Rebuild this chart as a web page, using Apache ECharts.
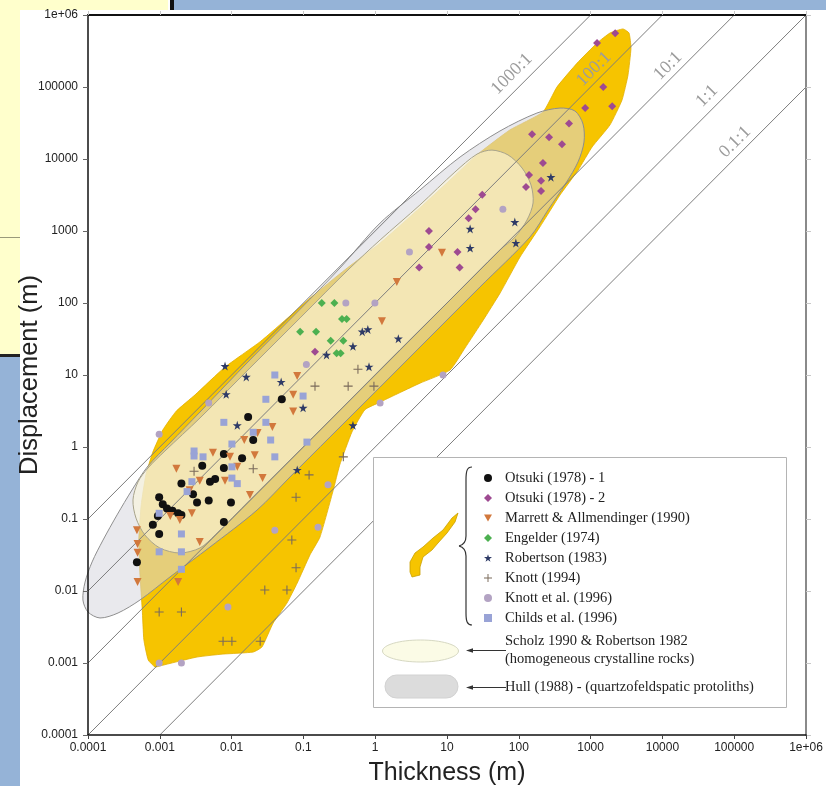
<!DOCTYPE html>
<html><head><meta charset="utf-8">
<script src="https://cdn.jsdelivr.net/npm/echarts/dist/echarts.min.js"></script>
<style>
html,body{margin:0;padding:0;background:#fff;}
#wrap{position:relative;width:826px;height:786px;overflow:hidden;}
.d{position:absolute;}
#c{position:absolute;left:0;top:0;width:826px;height:786px;}
</style>
</head><body>
<div id="wrap">
  <div class="d" style="left:0;top:0;width:168px;height:358px;background:#FFFFCC;"></div>
  <div class="d" style="left:0;top:237px;width:20px;height:1px;background:#9a9a7a;"></div>
  <div class="d" style="left:0;top:354px;width:20px;height:3px;background:#222;"></div>
  <div class="d" style="left:0;top:357px;width:20px;height:429px;background:#95B3D7;"></div>
  <div class="d" style="left:170px;top:0;width:4px;height:10px;background:#111;"></div>
  <div class="d" style="left:174px;top:0;width:652px;height:10px;background:#95B3D7;"></div>
  <div class="d" style="left:20px;top:10px;width:806px;height:776px;background:#fff;"></div>
  <div id="c"></div>
</div>
<script>
// ---------- tick labels ----------
const tickText = ['0.0001','0.001','0.01','0.1','1','10','100','1000','10000','100000','1e+06'];

// ---------- data series (Thickness m, Displacement m) ----------
const otsuki1 = [[0.05,4.6],[0.017,2.6],[0.02,1.25],[0.0078,0.8],[0.014,0.7],[0.0039,0.55],[0.0078,0.51],[0.0059,0.36],[0.005,0.33],[0.002,0.31],[0.0029,0.22],[0.0033,0.17],[0.0048,0.18],[0.0098,0.17],[0.00098,0.2],[0.0011,0.16],[0.00126,0.14],[0.0015,0.13],[0.0018,0.12],[0.002,0.114],[0.00094,0.11],[0.0008,0.083],[0.00098,0.062],[0.0078,0.091],[0.00048,0.025]];
const otsuki2 = [[2200,560000],[1230,410000],[1500,100000],[840,51000],[2000,54000],[500,31000],[153,22000],[264,20000],[400,16000],[217,8800],[139,6000],[204,5000],[126,4100],[204,3600],[31,3200],[25,2000],[20,1500],[5.6,1000],[5.6,600],[14,510],[15,310],[4.1,310],[0.145,21]];
const marrett = [[8.5,500],[2,196],[1.24,56],[0.082,9.7],[0.072,5.3],[0.072,3.1],[0.037,1.9],[0.023,1.56],[0.015,1.25],[0.021,0.77],[0.012,0.53],[0.0095,0.73],[0.0055,0.83],[0.0017,0.5],[0.0036,0.34],[0.0081,0.34],[0.027,0.37],[0.018,0.215],[0.0026,0.25],[0.0028,0.12],[0.0014,0.11],[0.0019,0.097],[0.0036,0.048],[0.00048,0.07],[0.00049,0.045],[0.00049,0.034],[0.00049,0.0133],[0.0018,0.0133]];
const engelder = [[0.18,100],[0.27,100],[0.345,60],[0.4,60],[0.09,40],[0.15,40],[0.24,30],[0.36,30],[0.29,20],[0.33,20]];
const robertson = [[280,5600],[88,1330],[21,1070],[21,580],[91,680],[2.1,32],[0.66,40],[0.79,43],[0.49,25],[0.21,19],[0.82,13],[0.0081,13.3],[0.016,9.4],[0.049,8],[0.0084,5.4],[0.099,3.5],[0.012,2],[0.49,2],[0.082,0.48]];
const knott94 = [[0.069,0.051],[0.079,0.021],[0.029,0.0103],[0.059,0.0103],[0.00098,0.0051],[0.002,0.0051],[0.0076,0.002],[0.0101,0.002],[0.025,0.002],[0.079,0.2],[0.12,0.41],[0.36,0.73],[0.02,0.5],[0.003,0.46],[0.145,7],[0.42,7],[0.575,12],[0.96,7]];
const knott96 = [[1.17,4.1],[0.16,0.077],[0.22,0.3],[0.04,0.07],[0.0089,0.006],[0.00098,0.001],[0.002,0.001],[0.00098,1.5],[0.0048,4.1],[0.39,100],[0.99,100],[0.11,14],[3,510],[60,2000],[8.8,10]];
const childs = [[0.04,10],[0.099,5.1],[0.03,4.6],[0.0078,2.2],[0.03,2.2],[0.02,1.6],[0.035,1.25],[0.0101,1.1],[0.112,1.17],[0.003,0.88],[0.003,0.75],[0.004,0.73],[0.04,0.73],[0.0101,0.53],[0.0101,0.37],[0.012,0.31],[0.0028,0.33],[0.0024,0.24],[0.00098,0.12],[0.002,0.062],[0.00098,0.035],[0.002,0.035],[0.002,0.02]];

// ---------- envelope of all data (gold field) ----------
const envelope = [[0.00086,0.00088],[0.00069,0.0011],[0.0006,0.0021],[0.00057,0.0055],[0.00053,0.0167],[0.00051,0.051],[0.00055,0.156],[0.00064,0.41],[0.0008,0.85],[0.0011,1.72],[0.0017,3.16],[0.0031,5.3],[0.0081,12.9],[0.025,29],[0.065,66],[0.124,117],[0.38,290],[1.17,680],[4.2,2100],[11,5100],[26,11400],[75,25300],[217,45000],[340,100000],[650,215000],[1230,408000],[1860,562000],[2830,640000],[3430,562000],[3650,348000],[3320,147000],[2740,66000],[1860,29700],[1050,14700],[670,7000],[375,3160],[197,1140],[104,435],[55,138],[32,58],[17.8,23.7],[11,11.7],[4.2,7.7],[1.9,5.3],[1.17,4.2],[0.72,3.3],[0.475,1.62],[0.32,0.56],[0.26,0.25],[0.17,0.056],[0.124,0.032],[0.082,0.0129],[0.059,0.0068],[0.038,0.0036],[0.0265,0.00167],[0.02,0.00142],[0.0076,0.00133],[0.0033,0.00121],[0.001,0.00091]];

// ---------- outlined fields ----------
const hullOutline = [[8.5e-5,0.0075],[9.1e-5,0.0133],[1.14e-4,0.0253],[1.62e-4,0.051],[2.54e-4,0.114],[4.1e-4,0.253],[6.85e-4,0.545],[0.00139,1.14],[0.00363,3.06],[0.018,16.2],[0.09,82],[0.323,306],[1.17,1290],[4.2,3710],[15.2,10660],[54.7,24500],[179,43500],[375,51000],[606,46400],[784,30600],[809,17200],[668,9100],[454,4640],[255,1960],[143,825],[28.8,167],[5.8,33.7],[1.17,6.8],[0.235,1.38],[0.065,0.383],[0.0226,0.133],[0.005,0.0408],[0.00139,0.0157],[5.3e-4,0.0075],[2.62e-4,0.00495],[1.47e-4,0.00422],[1e-4,0.00511]];
const scholzOutline = [[4.23e-4,0.184],[4.97e-4,0.327],[6.85e-4,0.511],[0.00118,0.88],[0.00363,2.53],[0.018,12.5],[0.09,62],[0.446,306],[1.17,750],[4.2,2300],[12.9,6600],[26.2,11700],[42.3,13300],[70.7,11400],[111,7500],[148,4350],[158,2450],[130,1420],[88.5,825],[54.7,545],[11,110],[2.2,22.3],[0.446,4.5],[0.09,0.91],[0.018,0.184],[0.0059,0.06],[0.00363,0.0396],[0.0019,0.0337],[0.001,0.0396],[6.2e-4,0.06],[4.66e-4,0.103]];

// ---------- displacement/thickness ratio lines ----------
const ratioNames = ['1000:1','100:1','10:1','1:1','0.1:1'];
const ratioStart = [[1e-4,0.1],[1e-4,0.01],[1e-4,0.001],[1e-4,1e-4],[1e-3,1e-4]];
const ratioEnd   = [[1000,1e6],[1e4,1e6],[1e5,1e6],[1e6,1e6],[1e6,1e5]];
const ratioLabelAt = [[80,152000],[1115,178000],[11970,196000],[41800,75000],[102600,17200]];

// ---------- legend texts ----------
const seriesNames = ['Otsuki (1978) - 1','Otsuki (1978) - 2','Marrett & Allmendinger (1990)','Engelder (1974)','Robertson (1983)','Knott (1994)','Knott et al. (1996)','Childs et al. (1996)'];

const STAR = 'path://M50,0L61.2,34.5L97.6,34.5L68.2,55.9L79.4,90.5L50,69.1L20.6,90.5L31.8,55.9L2.4,34.5L38.8,34.5Z';
const PLUS = 'path://M4.4,0H5.6V4.4H10V5.6H5.6V10H4.4V5.6H0V4.4H4.4Z';
const TRI_DOWN = 'path://M0,0L10,0L5,8.7Z';
const SERIF = '"Liberation Serif","Times New Roman",serif';
const SANS = '"Liberation Sans",Arial,sans-serif';

function areaSeries(outline, style, smooth, z){
  return {
    type:'custom', coordinateSystem:'cartesian2d', clip:false, silent:true, z:z,
    data:[outline[0]],
    renderItem:function(params, api){
      const pts = outline.map(function(p){return api.coord(p);});
      return {type:'polygon', shape:{points:pts, smooth:smooth}, style:style};
    }
  };
}

const series = [];
series.push(areaSeries(envelope, {fill:'#F6C400', stroke:'#E2AF00', lineWidth:0.8}, 0.15, 1));
series.push(areaSeries(hullOutline, {fill:'rgba(215,215,222,0.55)', stroke:'#8e8e8e', lineWidth:1}, 0.3, 2));
series.push(areaSeries(scholzOutline, {fill:'rgba(252,246,218,0.6)', stroke:'#a8a38a', lineWidth:1}, 0.3, 3));
ratioNames.forEach(function(n,i){
  series.push({type:'line', data:[ratioStart[i],ratioEnd[i]], symbol:'none', silent:true, z:4,
    lineStyle:{color:'#7d7d7d', width:1}});
});
series.push({
  type:'custom', coordinateSystem:'cartesian2d', clip:false, silent:true, z:4,
  data:ratioLabelAt,
  renderItem:function(params, api){
    const p = api.coord([api.value(0), api.value(1)]);
    return {type:'text', x:p[0], y:p[1], rotation:Math.PI/4,
      style:{text:ratioNames[params.dataIndex], fill:'#9c9c9c', fontSize:18, fontFamily:SERIF, align:'center', verticalAlign:'middle'}};
  }
});
const sDefs = [
  [otsuki1,'circle',8,'#111111'],
  [otsuki2,'diamond',8,'#9E4A91'],
  [marrett,TRI_DOWN,8,'#D2783C'],
  [engelder,'diamond',8,'#4CB050'],
  [robertson,STAR,9,'#2E3A66'],
  [knott94,PLUS,9,'#7a6a5a'],
  [knott96,'circle',7,'#B3A3C3'],
  [childs,'rect',7,'#99A3D6']
];
sDefs.forEach(function(s,i){
  series.push({name:seriesNames[i], type:'scatter', data:s[0], symbol:s[1], symbolSize:s[2], z:6+i,
    itemStyle:{color:s[3], opacity:1}, silent:true});
});

function fmt(v){ const i=Math.round(Math.log10(v))+4; return tickText[i]!==undefined?tickText[i]:''; }

const chart = echarts.init(document.getElementById('c'), null, {renderer:'canvas'});
chart.setOption({
  backgroundColor:'transparent',
  animation:false,
  grid:{left:88, right:20, top:15, bottom:51, containLabel:false, outerBoundsMode:'none'},
  xAxis:[
    {type:'log', logBase:10, min:1e-4, max:1e6, splitNumber:10, position:'bottom', z:20,
     name:'Thickness (m)', nameLocation:'middle', nameGap:26, nameMoveOverlap:false,
     nameTextStyle:{fontSize:25, color:'#222', fontFamily:SANS},
     axisLine:{show:true, lineStyle:{color:'#111', width:1.5}},
     axisTick:{show:true, length:4, lineStyle:{color:'#444'}},
     axisLabel:{formatter:fmt, fontSize:12, color:'#222', margin:7, fontFamily:SANS, showMinLabel:true, showMaxLabel:true},
     minorTick:{show:false}, splitLine:{show:false}},
    {type:'log', logBase:10, min:1e-4, max:1e6, splitNumber:10, position:'top', z:20,
     axisLine:{show:true, lineStyle:{color:'#111', width:2}},
     axisTick:{show:true, length:4, lineStyle:{color:'#c8c8c8'}},
     axisLabel:{show:false}, splitLine:{show:false}}
  ],
  yAxis:[
    {type:'log', logBase:10, min:1e-4, max:1e6, splitNumber:10, position:'left', z:20,
     name:'Displacement (m)', nameLocation:'middle', nameGap:45, nameRotate:90, nameMoveOverlap:false,
     nameTextStyle:{fontSize:25.5, color:'#222', fontFamily:SANS},
     axisLine:{show:true, lineStyle:{color:'#111', width:1.5}},
     axisTick:{show:true, length:5, lineStyle:{color:'#666'}},
     axisLabel:{formatter:fmt, fontSize:12, color:'#222', margin:10, fontFamily:SANS, showMinLabel:true, showMaxLabel:true},
     splitLine:{show:false}},
    {type:'log', logBase:10, min:1e-4, max:1e6, splitNumber:10, position:'right', z:20,
     axisLine:{show:true, lineStyle:{color:'#8a8a8a', width:2}},
     axisTick:{show:true, length:5, lineStyle:{color:'#c8c8c8'}},
     axisLabel:{show:false}, splitLine:{show:false}}
  ],
  legend:{
    data:seriesNames, orient:'vertical', left:484, top:470, z:120, selectedMode:false,
    itemWidth:8, itemHeight:8, itemGap:4, padding:0,
    textStyle:{fontFamily:SERIF, fontSize:14.5, color:'#222', lineHeight:16, padding:[0,0,0,8]}
  },
  graphic:[
    {type:'rect', z:100, shape:{x:373.5,y:457.5,width:413,height:250}, style:{fill:'#fff', stroke:'#b4b4b4', lineWidth:1}},
    {type:'polygon', z:101, shape:{points:[[458,513],[455,522],[447,533],[438,543],[432,550],[423,557],[420,567],[420,575],[412,577],[410,572],[410,562],[415,553],[423,547],[433,538],[443,530],[452,518]]},
     style:{fill:'#F6C400', stroke:'#C9A000', lineWidth:0.8}},
    {type:'bezierCurve', z:101, shape:{x1:472,y1:467,cpx1:467,cpy1:467,cpx2:466,cpy2:471,x2:466,y2:480}, style:{stroke:'#333', lineWidth:1.2, fill:null}},
    {type:'line', z:101, shape:{x1:466,y1:480,x2:466,y2:536}, style:{stroke:'#333', lineWidth:1.2}},
    {type:'bezierCurve', z:101, shape:{x1:466,y1:536,cpx1:466,cpy1:542,cpx2:463,cpy2:545,x2:459,y2:546}, style:{stroke:'#333', lineWidth:1.2, fill:null}},
    {type:'bezierCurve', z:101, shape:{x1:459,y1:546,cpx1:463,cpy1:547,cpx2:466,cpy2:550,x2:466,y2:556}, style:{stroke:'#333', lineWidth:1.2, fill:null}},
    {type:'line', z:101, shape:{x1:466,y1:556,x2:466,y2:613}, style:{stroke:'#333', lineWidth:1.2}},
    {type:'bezierCurve', z:101, shape:{x1:466,y1:613,cpx1:466,cpy1:621,cpx2:467,cpy2:625,x2:472,y2:625}, style:{stroke:'#333', lineWidth:1.2, fill:null}},
    {type:'ellipse', z:101, shape:{cx:420.5,cy:651,rx:38,ry:11}, style:{fill:'#FBFBE6', stroke:'#D6D8C2', lineWidth:1}},
    {type:'rect', z:101, shape:{x:385,y:675,width:73,height:23,r:11.5}, style:{fill:'#DCDCDC', stroke:'#D2D2D2', lineWidth:1}},
    {type:'line', z:101, shape:{x1:469,y1:650.5,x2:506,y2:650.5}, style:{stroke:'#333', lineWidth:1}},
    {type:'polygon', z:101, shape:{points:[[466,650.5],[473,648.3],[473,652.7]]}, style:{fill:'#333'}},
    {type:'line', z:101, shape:{x1:469,y1:687.5,x2:506,y2:687.5}, style:{stroke:'#333', lineWidth:1}},
    {type:'polygon', z:101, shape:{points:[[466,687.5],[473,685.3],[473,689.7]]}, style:{fill:'#333'}},
    {type:'text', z:101, x:505, y:641, style:{text:'Scholz 1990 & Robertson 1982', fill:'#222', fontSize:14.5, fontFamily:SERIF, verticalAlign:'middle'}},
    {type:'text', z:101, x:505, y:659, style:{text:'(homogeneous crystalline rocks)', fill:'#222', fontSize:14.5, fontFamily:SERIF, verticalAlign:'middle'}},
    {type:'text', z:101, x:505, y:687, style:{text:'Hull (1988) - (quartzofeldspatic protoliths)', fill:'#222', fontSize:14.5, fontFamily:SERIF, verticalAlign:'middle'}}
  ],
  series:series
});
</script>
</body></html>
